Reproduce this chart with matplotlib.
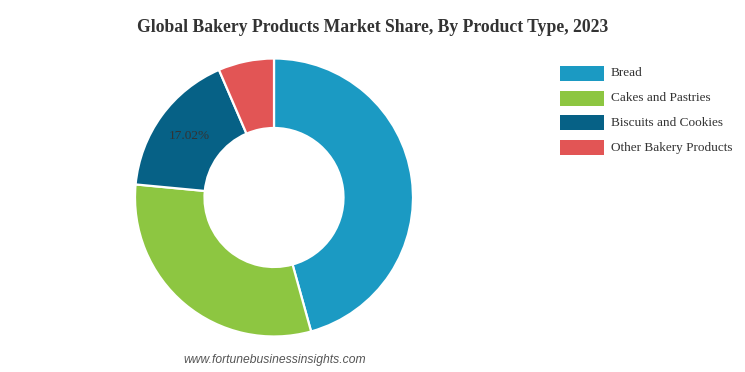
import matplotlib
matplotlib.use("Agg")
import matplotlib.pyplot as plt
from matplotlib.patches import Rectangle
import numpy as np

categories = ["Bread", "Cakes and Pastries", "Biscuits and Cookies", "Other Bakery Products"]
shares = [45.7, 30.8, 17.02, 6.48]
colors = ["#1b9ac3", "#8dc641", "#066186", "#e25555"]
label_shown = [False, False, True, False]

W, H = 745, 372
fig = plt.figure(figsize=(W / 100, H / 100), dpi=100)

def px_axes(left, top, w, h):
    return fig.add_axes([left / W, 1 - (top + h) / H, w / W, h / H])

R = 139
cx, cy = 274, 197.5
ax = px_axes(cx - R, cy - R, 2 * R, 2 * R)
wedges, _ = ax.pie(shares, colors=colors, startangle=90, counterclock=False,
                   radius=1, wedgeprops=dict(width=0.5, edgecolor="white", linewidth=1.6))
ax.set_xlim(-1, 1)
ax.set_ylim(-1, 1)
ax.set_aspect("equal")
ax.axis("off")

cum = np.cumsum([0] + shares[:-1])
for i, (s, c0) in enumerate(zip(shares, cum)):
    if label_shown[i]:
        mid = 90 - (c0 + s / 2) / 100 * 360
        r = 0.75
        ax.text(r * np.cos(np.radians(mid)), r * np.sin(np.radians(mid)), f"{s:.2f}%",
                ha="center", va="center", fontsize=9.5, color="#333333",
                family="Liberation Serif")

fig.text(373 / W, 1 - 27.5 / H, "Global Bakery Products Market Share, By Product Type, 2023",
         ha="center", va="center", fontsize=12.7, fontweight="bold", color="#333333",
         family="Liberation Serif")

for i, (cat, col) in enumerate(zip(categories, colors)):
    y = 73.5 + i * 24.7
    fig.patches.append(Rectangle((560 / W, 1 - (y + 7.5) / H), 44 / W, 15 / H,
                                 transform=fig.transFigure, facecolor=col, edgecolor="none"))
    fig.text(611 / W, 1 - y / H, cat, ha="left", va="center", fontsize=9.5,
             color="#333333", family="Liberation Serif")

fig.text(274.5 / W, 1 - 360 / H, "www.fortunebusinessinsights.com", ha="center", va="center",
         fontsize=8.7, style="italic", color="#555555", family="Liberation Sans")

fig.savefig("out.png", dpi=100)
